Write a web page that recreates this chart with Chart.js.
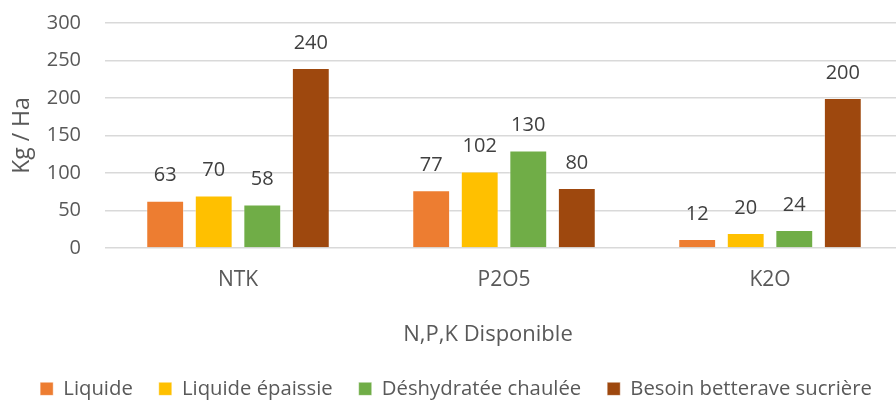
<!DOCTYPE html>
<html>
<head>
<meta charset="utf-8">
<script src="https://cdn.jsdelivr.net/npm/chart.js@4.4.1/dist/chart.umd.min.js"></script>
<style>
  html, body { margin: 0; padding: 0; background: #fff; overflow: hidden; }
  #clip { width: 896px; height: 400px; overflow: hidden; position: relative; }
  /* the plot runs a little past the right and bottom edges, as in the reference */
  #wrap { width: 903px; height: 409px; position: absolute; left: 0; top: 0; }
</style>
</head>
<body>
<div id="clip"><div id="wrap"><canvas id="myChart"></canvas></div></div>
<script>
// data
const categories = ['NTK', 'P2O5', 'K2O'];
const seriesNames = ['Liquide', 'Liquide épaissie', 'Déshydratée chaulée', 'Besoin betterave sucrière'];
const liquide = [63, 77, 12];
const liquideEpaissie = [70, 102, 20];
const deshydrateeChaulee = [58, 130, 24];
const besoinBetterave = [240, 80, 200];
const yTicks = [0, 50, 100, 150, 200, 250, 300];
const xTitle = 'N,P,K Disponible';

const colors = ['#ED7D31', '#FFC000', '#70AD47', '#9E480E'];
const textColor = '#595959';
const fontFamily = '"Open Sans", "DejaVu Sans", sans-serif';

const allValues = [liquide, liquideEpaissie, deshydrateeChaulee, besoinBetterave];

// value labels above each bar + the x axis title (sits a bit left of centre in the original)
const extras = {
  id: 'extras',
  afterDatasetsDraw(chart) {
    const ctx = chart.ctx;
    ctx.save();
    ctx.font = '20px ' + fontFamily;
    ctx.fillStyle = '#404040';
    ctx.textAlign = 'center';
    ctx.textBaseline = 'middle';
    chart.data.datasets.forEach((ds, i) => {
      const meta = chart.getDatasetMeta(i);
      meta.data.forEach((bar, j) => {
        ctx.fillText(String(ds.data[j]), bar.x, bar.y - 25);
      });
    });

    ctx.font = '22px ' + fontFamily;
    ctx.fillStyle = textColor;
    const xs = chart.scales.x;
    ctx.fillText(xTitle, xs.left + 383, xs.top + 87);
    ctx.restore();
  }
};

new Chart(document.getElementById('myChart'), {
  type: 'bar',
  data: {
    labels: categories,
    datasets: seriesNames.map((name, i) => ({
      label: name,
      data: allValues[i],
      backgroundColor: colors[i],
      borderColor: 'rgba(255,255,255,0.4)',
      borderWidth: 1,
      categoryPercentage: 0.73,
      barPercentage: 0.78
    }))
  },
  plugins: [extras],
  options: {
    responsive: true,
    maintainAspectRatio: false,
    animation: false,
    layout: { padding: { top: 23, right: 0, left: 9, bottom: 0 } },
    plugins: {
      tooltip: { enabled: false },
      legend: {
        position: 'bottom',
        labels: {
          color: textColor,
          font: { family: fontFamily, size: 20.3 },
          boxWidth: 13,
          boxHeight: 13,
          padding: 26
        }
      }
    },
    scales: {
      x: {
        grid: { display: false, drawTicks: false },
        border: { display: false },
        ticks: { color: textColor, font: { family: fontFamily, size: 21 }, padding: 19 },
        afterFit(scale) {
          const legendH = scale.chart.legend ? scale.chart.legend.height : 0;
          scale.height = scale.chart.height - 248 - legendH;
        }
      },
      y: {
        min: 0,
        max: 300,
        afterBuildTicks(scale) {
          scale.ticks = yTicks.map(v => ({ value: v }));
        },
        // invisible tick marks keep the labels away from the grid
        grid: { color: '#D9D9D9', lineWidth: 1.5, drawTicks: true, tickLength: 24, tickColor: 'rgba(0,0,0,0)' },
        border: { display: false },
        ticks: { color: textColor, font: { family: fontFamily, size: 20 }, padding: 0 },
        title: {
          display: true,
          text: 'Kg / Ha',
          color: textColor,
          font: { family: fontFamily, size: 23 },
          padding: { top: 0, bottom: 0 }
        },
        afterFit(scale) {
          scale.width = 96;
        }
      }
    }
  }
});
</script>
</body>
</html>
